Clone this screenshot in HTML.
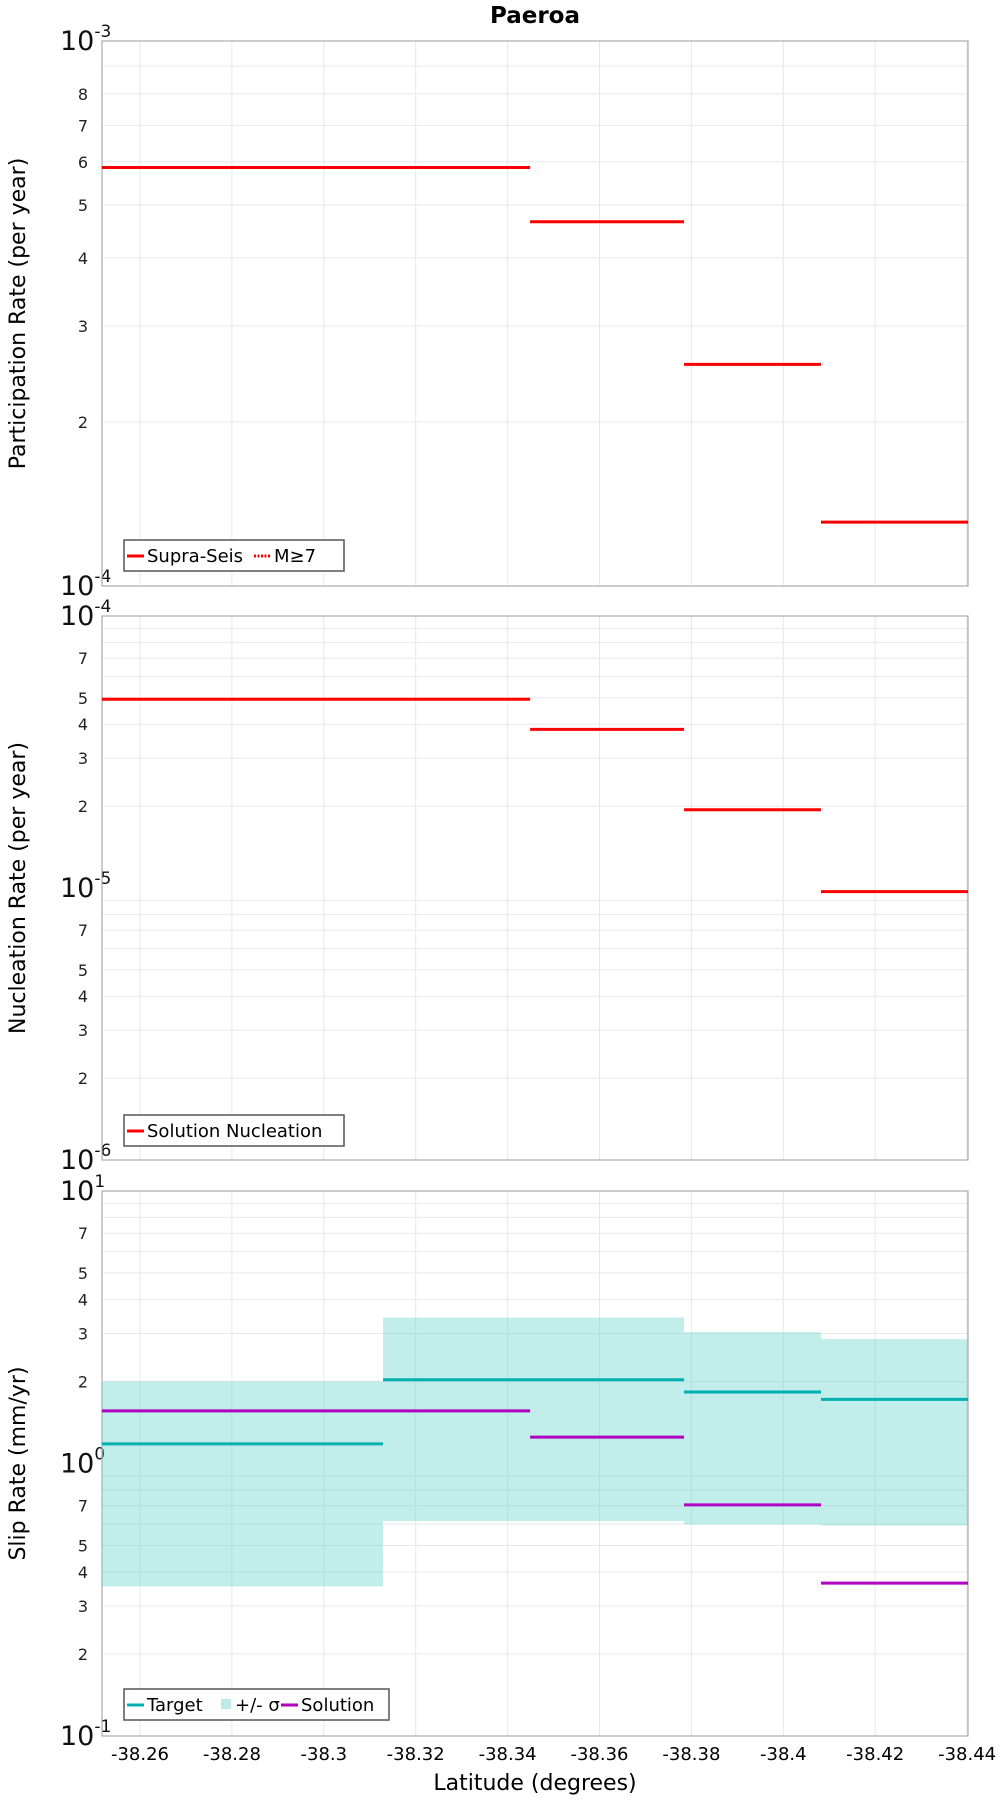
<!DOCTYPE html>
<html><head><meta charset="utf-8"><style>
body{margin:0;background:#fff;width:1000px;height:1800px;overflow:hidden}
svg{font-family:"DejaVu Sans","Liberation Sans",sans-serif}
</style></head><body>
<svg id="chart" width="1000" height="1800" viewBox="0 0 1000 1800" xmlns="http://www.w3.org/2000/svg">
<text x="535" y="23" text-anchor="middle" font-weight="bold" font-size="23">Paeroa</text>
<text x="535" y="1790" text-anchor="middle" font-size="22">Latitude (degrees)</text>
</svg>
<script>
// data
const xTicks = [-38.26,-38.28,-38.3,-38.32,-38.34,-38.36,-38.38,-38.4,-38.42,-38.44];
const xTickLabels = ["-38.26","-38.28","-38.3","-38.32","-38.34","-38.36","-38.38","-38.4","-38.42","-38.44"];
const solBounds = [-38.2517,-38.3449,-38.3784,-38.4082,-38.4402];
const tgtBounds = [-38.2517,-38.3129,-38.3784,-38.4082,-38.4402];
const partRate = [5.86e-4,4.66e-4,2.55e-4,1.31e-4];
const nuclRate = [4.94e-5,3.83e-5,1.94e-5,9.7e-6];
const slipTarget = [1.18,2.03,1.83,1.72];
const slipUpper = [2.0,3.43,3.03,2.86];
const slipLower = [0.354,0.615,0.597,0.592];
const slipSolution = [1.56,1.25,0.705,0.364];

const NS="http://www.w3.org/2000/svg";
const svg=document.getElementById('chart');
const L=102,R=968;
const xS=v=>140+(v-(-38.26))/(-0.02)*91.9;
function mk(tag,attrs,parent){const e=document.createElementNS(NS,tag);for(const k in attrs)e.setAttribute(k,attrs[k]);(parent||svg).appendChild(e);return e;}

function panel(name,top,bot,minExp,maxExp,labelDigits,title){
  const g=mk('g',{});
  
  
  const yS=v=>bot-(Math.log10(v)-minExp)/(maxExp-minExp)*(bot-top);
  // grid
  for(let e=minExp;e<maxExp;e++){for(let d=2;d<=9;d++){const y=yS(d*Math.pow(10,e));
    const l=mk('line',{x1:L,x2:R,y1:y,y2:y,stroke:'#e8e8e8','stroke-width':1},g);
    
    
    if(labelDigits.includes(d)){const t=mk('text',{x:88,y:y+6,'text-anchor':'end','font-size':16,fill:'#222'},g);t.textContent=d;
      
      }
  }}
  for(let e=minExp;e<=maxExp;e++){const y=yS(Math.pow(10,e));
    const t=mk('text',{x:60,y:y+9,'font-size':27,fill:'#111'},g);
    
    
    t.textContent='10';
    const s=mk('tspan',{dy:-13,'font-size':17},t);s.textContent=String(e);
  }
  xTicks.forEach(v=>{const x=xS(v);const l=mk('line',{x1:x,x2:x,y1:top,y2:bot,stroke:'#e8e8e8','stroke-width':1},g);
    
    });
  const f=mk('rect',{x:L,y:top,width:R-L,height:bot-top,fill:'none',stroke:'#aaa','stroke-width':1.2},g);
  
  
  const cy=(top+bot)/2;
  const t=mk('text',{x:0,y:0,'font-size':22,'text-anchor':'middle',transform:`translate(25,${cy}) rotate(-90)`},g);
  
  
  t.textContent=title;
  return {g,yS};
}
function seg(g,bounds,vals,yS,color,name,dotted){
  vals.forEach((v,i)=>{const l=mk('line',{x1:xS(bounds[i]),x2:xS(bounds[i+1]),y1:yS(v),y2:yS(v),stroke:color,'stroke-width':3},g);
    
    
    if(dotted){const d=mk('line',{x1:xS(bounds[i]),x2:xS(bounds[i+1]),y1:yS(v),y2:yS(v),stroke:'#d00','stroke-width':1,'stroke-dasharray':'2 2'},g);
      
      }
  });
}
function legend(g,x,y,w,items){
  const lg=mk('g',{},g);
  
  
  mk('rect',{x:x,y:y,width:w,height:31,fill:'#fff',stroke:'#555','stroke-width':1.5},lg);
  let cx=x+3;
  items.forEach(it=>{
    if(it.box){mk('rect',{x:cx,y:y+10,width:10,height:10,fill:it.color},lg);cx+=14;}
    else{mk('line',{x1:cx,x2:cx+17,y1:y+16,y2:y+16,stroke:it.color,'stroke-width':3,'stroke-dasharray':it.dash||'none'},lg);cx+=20;}
    const t=mk('text',{x:cx,y:y+22,'font-size':18},lg);t.textContent=it.label;
    
    
    cx+=it.w;
  });
}
// panel 1
let p=panel('participation',41,586,-4,-3,[2,3,4,5,6,7,8],'Participation Rate (per year)');
seg(p.g,solBounds,partRate,p.yS,'#ff0000','participation-segment',true);
legend(p.g,124,540,220,[{color:'#f00',label:'Supra-Seis',w:107},{color:'#f00',dash:'2 1.5',label:'M≥7',w:40}]);
// panel 2
p=panel('nucleation',616,1160,-6,-4,[2,3,4,5,7],'Nucleation Rate (per year)');
seg(p.g,solBounds,nuclRate,p.yS,'#ff0000','nucleation-segment',false);
legend(p.g,124,1115,220,[{color:'#f00',label:'Solution Nucleation',w:190}]);
// panel 3
p=panel('slip-rate',1191,1736,-1,1,[2,3,4,5,7],'Slip Rate (mm/yr)');
slipUpper.forEach((u,i)=>{const r=mk('rect',{x:xS(tgtBounds[i]),y:p.yS(u),width:xS(tgtBounds[i+1])-xS(tgtBounds[i]),height:p.yS(slipLower[i])-p.yS(u),fill:'rgba(100,210,205,0.4)'},p.g);
  
  });
seg(p.g,tgtBounds,slipTarget,p.yS,'#00b0b0','target-segment',false);
seg(p.g,solBounds,slipSolution,p.yS,'#b000c0','solution-segment',false);
legend(p.g,124,1689,265,[{color:'#00b0b0',label:'Target',w:74},{color:'#bfeae8',box:true,label:'+/- σ',w:46},{color:'#b000c0',label:'Solution',w:80}]);
// x tick labels
xTicks.forEach((v,i)=>{const t=mk('text',{x:xS(v),y:1760,'text-anchor':'middle','font-size':18});t.textContent=xTickLabels[i];
  
  });
</script>
</body></html>
